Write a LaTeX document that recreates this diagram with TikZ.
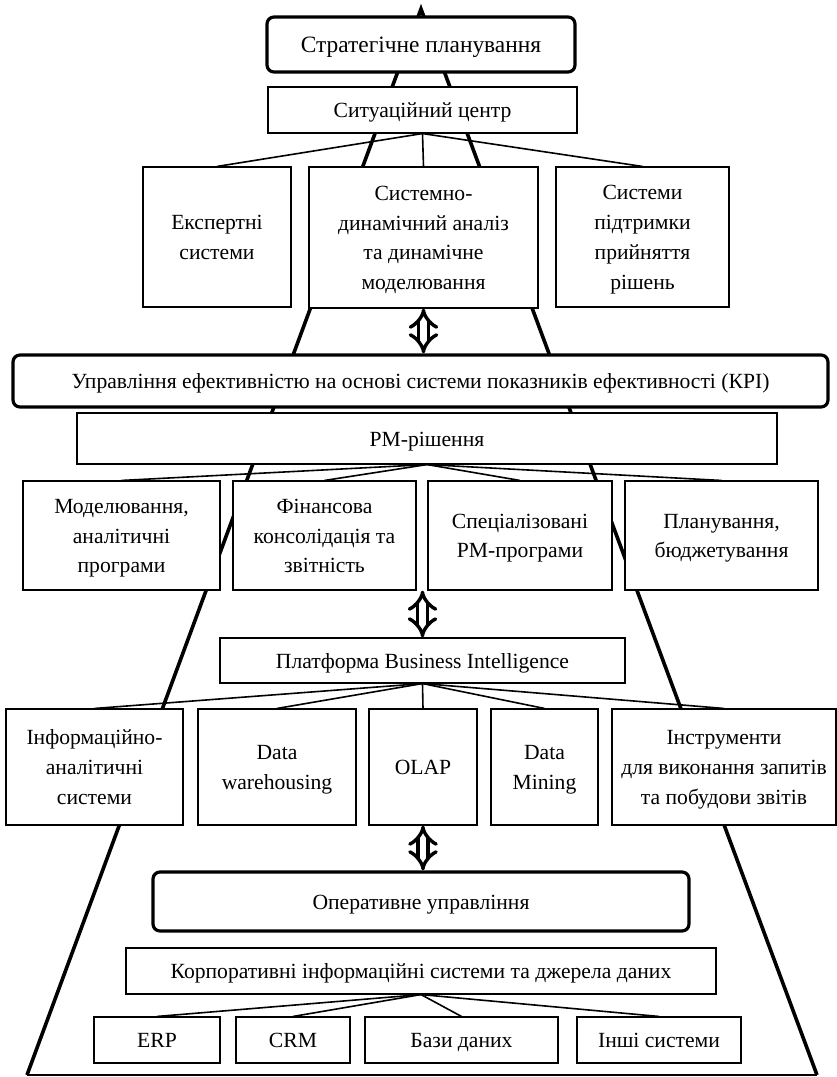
\documentclass[tikz,border=0pt]{standalone}
\usepackage{fontspec}
\setmainfont{Liberation Serif}
\usetikzlibrary{arrows.meta, positioning, calc}

\tikzset{
  cell/.style={draw, line width=1.1bp, fill=white, align=center, inner sep=0pt,
    font=\fontsize{21.7}{30}\selectfont},
  tier/.style={cell, line width=3.2bp, rounded corners=7bp},
  fan/.style={line width=1.6bp},
  side/.style={line width=3.6bp, line join=miter},
  swap/.style={double, double distance=6.5bp, line width=3.4bp,
    {Implies[length=9bp, width=27bp]}-{Implies[length=9bp, width=27bp]}}
}
% box from its corners (pixels of the layout): style, name, x1, y1, x2, y2, text
\newcommand{\cellat}[7]{%
  \node[#1, minimum width={(#5-#3)*1bp}, minimum height={(#6-#4)*1bp}]
    (#2) at ({(#3+#5)/2},{(#4+#6)/2})
    {\rule{0pt}{23bp}#7\rule[-8bp]{0pt}{8bp}};}

\begin{document}
\begin{tikzpicture}[x=1bp, y=-1bp]
  \useasboundingbox (0,0) rectangle (837,1077);

  % pyramid behind everything
  \coordinate (apex) at (421,9);
  \coordinate (bl) at (27,1075);
  \coordinate (br) at (817,1075);
  \draw[line width=1.6bp] (bl) -- (br);
  \draw[side] (bl) -- (apex) -- (br);

  % strategic level
  \cellat{tier, font=\fontsize{23.5}{30}\selectfont}{strat}{267}{17}{575}{72}{Стратегічне планування}
  \cellat{cell}{sitc}{268}{87}{577}{133}{Ситуаційний центр}
  \cellat{cell}{expert}{143}{167}{291}{307}{Експертні\\системи}
  \cellat{cell}{sdm}{309}{167}{538}{308}{Системно-\\динамічний аналіз\\та динамічне\\моделювання}
  \cellat{cell}{dss}{556}{167}{729}{307}{Системи\\підтримки\\прийняття\\рішень}
  \foreach \n in {expert, sdm, dss}
    \draw[fan] (sitc.south) -- (\n.north);

  % performance management
  \cellat{tier}{kpi}{13}{355}{828}{407}{Управління ефективністю на основі системи показників ефективності (КРІ)}
  \cellat{cell}{pm}{77}{413}{777}{464}{РМ-рішення}
  \cellat{cell}{model}{23}{481}{220}{590}{Моделювання,\\аналітичні\\програми}
  \cellat{cell}{fin}{233}{481}{416}{590}{Фінансова\\консолідація та\\звітність}
  \cellat{cell}{spec}{428}{481}{612}{590}{Спеціалізовані\\РМ-програми}
  \cellat{cell}{plan}{625}{481}{818}{590}{Планування,\\бюджетування}
  \foreach \n in {model, fin, spec, plan}
    \draw[fan] (pm.south) -- (\n.north);

  % business intelligence
  \cellat{cell}{bi}{220}{638}{625}{683}{Платформа Business Intelligence}
  \cellat{cell}{ias}{6}{709}{183}{825}{Інформаційно-\\аналітичні\\системи}
  \cellat{cell}{dw}{198}{709}{356}{825}{Data\\warehousing}
  \cellat{cell}{olap}{369}{709}{477}{825}{OLAP}
  \cellat{cell}{dm}{491}{709}{598}{825}{Data\\Mining}
  \cellat{cell}{tools}{612}{709}{836}{825}{Інструменти\\для виконання запитів\\та побудови звітів}
  \foreach \n in {ias, dw, olap, dm, tools}
    \draw[fan] (bi.south) -- (\n.north);

  % operational level
  \cellat{tier}{oper}{153}{872}{689}{931}{Оперативне управління}
  \cellat{cell}{corp}{126}{948}{716}{994}{Корпоративні інформаційні системи та джерела даних}
  \cellat{cell}{erp}{94}{1017}{220}{1063}{ERP}
  \cellat{cell}{crm}{236}{1017}{350}{1063}{CRM}
  \cellat{cell}{db}{365}{1017}{558}{1063}{Бази даних}
  \cellat{cell}{other}{577}{1017}{741}{1063}{Інші системи}
  \foreach \n in {erp, crm, db, other}
    \draw[fan] (corp.south) -- (\n.north);

  % links between levels
  \draw[swap] (sdm.south) -- (sdm.south |- kpi.north);
  \draw[swap] (bi.north |- fin.south) -- (bi.north);
  \draw[swap] (olap.south) -- (olap.south |- oper.north);
\end{tikzpicture}
\end{document}
